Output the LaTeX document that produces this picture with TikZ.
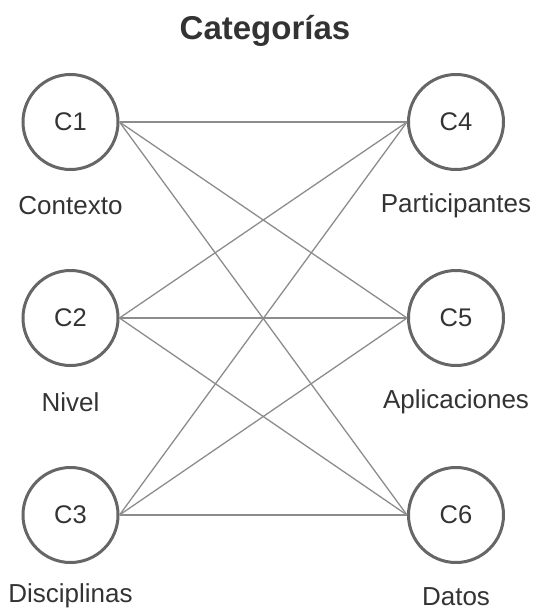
\documentclass[tikz,border=0pt]{standalone}
\usepackage{fontspec}
\setmainfont{Liberation Sans}
\begin{document}
\begin{tikzpicture}[x=1pt,y=-1pt,
  cat/.style={circle,draw=black!60,line width=3pt,minimum size=95pt,inner sep=0pt,font=\fontsize{25.5}{28}\selectfont,text=black!80},
  lab/.style={font=\fontsize{26}{28}\selectfont,text=black!80},
  link/.style={draw=black!45,line width=1.3pt}]
\useasboundingbox (0,0) rectangle (535,610);
\node[font=\bfseries\fontsize{33}{36}\selectfont,text=black!80] (title) at (265,31) {Categorías};
\node[cat] (c1) at (70.5,122) {C1};
\node[cat] (c2) at (70.5,318) {C2};
\node[cat] (c3) at (70.5,515) {C3};
\node[cat] (c4) at (456,122) {C4};
\node[cat] (c5) at (456,318) {C5};
\node[cat] (c6) at (456,515) {C6};
\node[lab] (l1) at (70.5,206) {Contexto};
\node[lab] (l2) at (70.5,402) {Nivel};
\node[lab] (l3) at (70.5,596) {Disciplinas};
\node[lab] (l4) at (456,206) {Participantes};
\node[lab] (l5) at (456,402) {Aplicaciones};
\node[lab] (l6) at (456,597) {Datos};
\foreach \a in {c1,c2,c3}{
  \foreach \b in {c4,c5,c6}{
    \draw[link] (\a.east) -- (\b.west);
  }
}
\end{tikzpicture}
\end{document}
